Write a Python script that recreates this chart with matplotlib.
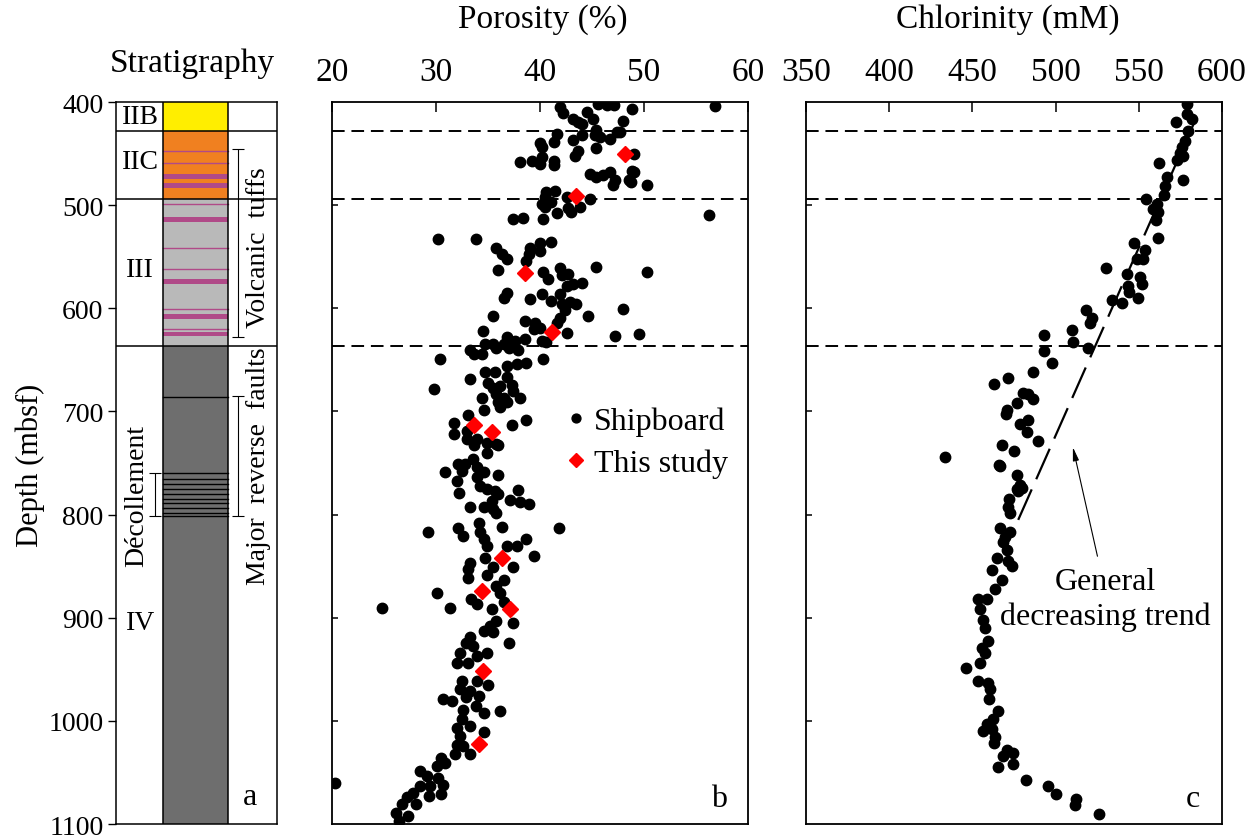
"""
Three-panel depth figure: stratigraphic column, porosity and chlorinity.
"""
import matplotlib
matplotlib.use("Agg")
import matplotlib.pyplot as plt

plt.rcParams["font.family"] = ["Liberation Serif", "DejaVu Serif"]

# ---- stratigraphy (depths in mbsf) ----
unit_names = ["IIB", "IIC", "III", "IV"]
unit_top = [400, 428, 494, 637]
unit_base = [428, 494, 637, 1100]
unit_colors = ["#FFEE00", "#F08020", "#B9B9B9", "#6E6E6E"]
unit_label_depth = [414, 458, 562, 905]

tuff_thin = [447, 459, 499, 542, 562, 601, 620]
tuff_thick = [472, 481, 514, 574, 608, 625]
fault_line = [686]
decollement_lines = [760, 765, 770, 775, 780, 785, 789, 794, 798, 801]

tuff_range = (446, 628)
fault_range = (685, 801)
decol_range = (760, 801)

# horizontal unit boundaries shown on b and c
boundaries = [428, 494, 637]

# ---- porosity, shipboard ----
por_ship = [
    41.9, 42.2, 43.2, 43.7, 44.0, 44.5, 45.1, 45.6, 46.4, 47.1, 48.8, 48.0,
    45.4, 45.3, 45.8, 44.0, 43.2, 46.7, 47.4, 47.7, 41.6, 41.3, 40.0, 40.2,
    43.7, 43.4, 45.4, 49.0, 38.1, 39.2, 40.2, 40.0, 41.3, 41.3, 44.8, 45.4,
    46.1, 46.7, 47.2, 47.0, 49.0, 48.7, 50.3, 56.8, 56.2, 48.8, 48.6,
    40.6, 41.4, 40.5, 40.2, 41.1, 40.5, 41.6, 40.3, 38.4, 37.4, 42.7, 43.0,
    43.8, 44.8, 42.6, 30.2, 33.8, 35.8, 36.3, 36.8, 39.0, 38.9, 40.0, 40.0,
    41.1, 38.7, 36.0, 40.3, 41.9, 42.7, 45.4, 50.3,
    40.8, 42.1, 42.6, 43.2, 44.0, 36.8, 36.5, 39.0, 40.2, 41.1, 41.9, 42.1,
    42.9, 43.5, 42.4, 41.9, 41.6, 44.6, 48.0, 47.2, 49.5, 35.5, 38.6, 39.5,
    39.4, 40.0, 42.6, 40.2, 40.6, 34.5, 36.8, 37.6, 38.6, 34.7, 35.5, 36.5,
    33.3, 33.7, 34.4, 35.8, 37.0, 37.9, 30.4, 40.3, 36.8, 37.8, 38.7, 33.3,
    34.7, 35.7, 36.8, 35.0, 35.5, 36.2, 37.3, 37.4, 29.8, 34.4, 35.8, 36.5,
    38.1, 36.0, 36.2, 36.8, 34.6, 33.1, 31.7, 31.7, 37.3, 38.7, 33.0, 33.0,
    33.9, 35.8, 33.7, 34.9, 36.0,
    34.9, 33.6, 32.8, 32.1, 30.9, 32.5, 33.9, 34.6, 36.0, 32.0, 32.2, 33.9,
    34.2, 34.9, 35.7, 36.0, 35.4, 34.6, 33.3, 35.5, 35.8, 37.9, 37.1, 38.1,
    38.9, 41.8, 29.2, 32.1, 32.6, 34.1, 34.2, 34.6, 34.9, 36.3, 36.8, 37.8,
    38.7, 39.4, 37.4, 34.7, 33.3, 33.1, 33.1, 35.5, 34.9, 36.5, 35.8, 30.1,
    24.8, 31.3, 33.4, 33.9, 35.4, 36.2, 36.5, 37.4, 35.8, 35.2, 34.6, 35.5,
    33.3,
    37.0, 32.9, 33.6, 32.3, 33.9, 34.9, 32.0, 33.1, 32.5, 33.9, 35.0, 32.3,
    33.3, 30.7, 31.5, 32.9, 34.1, 32.6, 33.8, 34.6, 36.2, 32.5, 32.0, 33.3,
    34.6, 32.3, 32.0, 32.6, 31.8, 33.3, 30.5, 30.9, 30.1, 28.5, 29.1, 30.2,
    30.7, 29.4, 30.5, 29.3, 28.5, 27.8, 27.2, 28.1, 26.7, 26.2, 27.3, 26.4,
    20.3,
]
dep_ship = [
    405, 411, 416, 419, 421, 410, 416, 402, 403, 403, 407, 418,
    427, 432, 434, 432, 437, 436, 429, 429, 431, 439, 440, 444,
    447, 452, 445, 450, 458, 457, 453, 460, 457, 461, 470, 473,
    471, 468, 476, 480, 468, 478, 480, 404, 510, 467, 476,
    487, 486, 492, 499, 497, 502, 508, 513, 512, 513, 503, 507,
    502, 494, 492, 533, 533, 542, 547, 552, 542, 547, 537, 544,
    536, 554, 563, 565, 561, 567, 560, 565,
    572, 568, 578, 576, 575, 585, 590, 591, 586, 593, 586, 596,
    594, 596, 602, 609, 614, 607, 601, 627, 625, 607, 612, 614,
    620, 619, 624, 632, 633, 622, 628, 632, 630, 635, 635, 635,
    640, 644, 644, 638, 638, 640, 649, 649, 656, 654, 653, 669,
    662, 662, 667, 672, 677, 675, 674, 680, 678, 687, 683, 687,
    687, 691, 696, 691, 699, 703, 711, 722, 713, 708, 719, 727,
    727, 732, 733, 731, 733,
    740, 746, 751, 751, 759, 758, 754, 759, 762, 767, 779, 764,
    772, 775, 777, 780, 787, 793, 793, 795, 798, 776, 786, 788,
    790, 813, 817, 813, 821, 808, 817, 824, 830, 812, 830, 830,
    824, 840, 851, 842, 847, 853, 861, 851, 859, 863, 869, 876,
    891, 891, 882, 887, 892, 876, 885, 905, 903, 908, 913, 914,
    919,
    924, 924, 927, 934, 937, 934, 944, 944, 961, 961, 965, 969,
    971, 979, 981, 977, 976, 989, 986, 992, 990, 998, 1007, 1005,
    1011, 1015, 1023, 1024, 1032, 1032, 1036, 1041, 1044, 1049, 1053, 1055,
    1062, 1063, 1071, 1073, 1063, 1070, 1074, 1081, 1081, 1089, 1092, 1097,
    1060,
]

# ---- porosity, this study ----
por_this = [48.2, 43.5, 38.6, 41.2, 33.7, 35.4, 36.3, 34.4, 37.1, 34.5, 34.1]
dep_this = [450, 491, 566, 623, 713, 720, 842, 874, 892, 952, 1022]

# ---- chlorinity ----
cl_ship = [
    578.8, 578.8, 581.8, 572.4, 579.4, 577.8, 575.8, 574.8, 576.8, 572.8,
    562.3, 576.8, 567.2, 565.7, 565.3, 554.1, 560.7, 558.7, 561.7, 560.3,
    561.7, 547.3, 553.7, 548.7, 552.7, 542.7, 530.3, 550.7, 551.7, 543.7,
    544.3, 549.7, 534.1, 539.7, 518.3, 521.7, 520.7, 509.7, 510.7, 493.0,
    493.0, 519.3, 498.0, 486.6, 471.6, 463.0,
    480.6, 483.6, 486.6, 476.6, 470.6, 470.2, 483.6, 478.6, 483.0, 489.6,
    433.5, 467.6, 475.0, 466.2, 466.6, 477.0, 478.6, 476.6, 479.6, 472.2,
    477.6, 471.6, 472.6, 466.6, 472.6, 469.6, 468.6, 470.6, 464.6, 471.6,
    473.6, 461.6, 467.6, 463.6, 453.6, 458.6, 454.6, 456.6, 457.6, 459.6,
    455.6, 457.6, 454.6, 446.2, 453.6, 459.6, 460.6, 460.2, 465.6, 462.6,
    458.6, 456.6, 461.6, 463.6, 463.0, 470.6, 474.6, 468.6, 474.6, 465.6,
    482.2, 495.6, 500.0, 512.3, 511.7, 526.1,
]
dep_cl = [
    402, 412, 416, 419, 428, 438, 444, 449, 452, 456,
    459, 476, 473, 481, 490, 494, 499, 504, 507, 514,
    532, 537, 543, 552, 552, 567, 561, 570, 576, 578,
    584, 590, 592, 595, 602, 609, 614, 621, 633, 626,
    641, 638, 653, 662, 668, 673,
    682, 683, 688, 692, 699, 702, 708, 712, 720, 729,
    744, 733, 738, 752, 753, 762, 771, 775, 774, 785,
    777, 793, 798, 813, 817, 822, 827, 834, 842, 845,
    850, 854, 863, 872, 882, 882, 892, 902, 910, 923,
    929, 934, 944, 949, 961, 963, 969, 979, 990, 998,
    1003, 1010, 1008, 1016, 1021, 1028, 1031, 1034, 1042, 1045,
    1057, 1063, 1071, 1076, 1082, 1090,
]

# trend line end points (chlorinity, depth) and arrow
trend_cl = [583, 477]
trend_dep = [421, 807]
arrow_head = (510, 732)
arrow_tail = (525.5, 843)

FS = 20        # left depth ticks, unit labels
FS_TOP = 24    # top tick labels and headers
FS_NOTE = 23   # legend and annotation
TUFF = "#B04A88"

fig = plt.figure(figsize=(12.57, 8.37), dpi=100)
ax_a = fig.add_axes([0.0923, 0.0143, 0.1281, 0.8626])
ax_b = fig.add_axes([0.2641, 0.0143, 0.3310, 0.8626])
ax_c = fig.add_axes([0.6412, 0.0143, 0.3310, 0.8626])

# ---------------- panel a ----------------
col0, col1 = 0.292, 0.696
ax_a.set_xlim(0, 1)
ax_a.set_ylim(1100, 400)
for top, base, c in zip(unit_top, unit_base, unit_colors):
    ax_a.fill_between([col0, col1], top, base, color=c, lw=0)
for d in tuff_thin:
    ax_a.plot([col0, col1], [d, d], color=TUFF, lw=1.0)
for d in tuff_thick:
    ax_a.fill_between([col0, col1], d - 2.3, d + 2.3, color=TUFF, lw=0)
for d in fault_line + decollement_lines:
    ax_a.plot([col0, col1], [d, d], color="black", lw=1.0)
ax_a.axvline(col0, color="black", lw=1.1)
ax_a.axvline(col1, color="black", lw=1.1)
for d in boundaries:
    ax_a.axhline(d, color="black", lw=1.1)
for name, d in zip(unit_names, unit_label_depth):
    ax_a.text(0.15, d, name, ha="center", va="center", fontsize=FS)
ax_a.text(0.83, 1073, "a", ha="center", va="center", fontsize=FS_NOTE)

def bracket(ax, x, rng):
    mid = (rng[0] + rng[1]) / 2
    ax.errorbar(x, mid, yerr=(rng[1] - rng[0]) / 2, color="black",
                lw=0.8, capsize=4, capthick=0.8)

bracket(ax_a, 0.758, tuff_range)
bracket(ax_a, 0.758, fault_range)
bracket(ax_a, 0.242, decol_range)
ax_a.text(0.885, 540, "Volcanic  tuffs", rotation=90, ha="center",
          va="center", fontsize=FS)
ax_a.text(0.885, 752, "Major  reverse  faults", rotation=90, ha="center",
          va="center", fontsize=FS)
ax_a.text(0.13, 781, "Décollement", rotation=90, ha="center",
          va="center", fontsize=FS)

ax_a.set_xticks([])
ax_a.set_yticks(range(400, 1101, 100))
ax_a.tick_params(axis="y", direction="out", length=6, width=1,
                 labelsize=FS, pad=3)
for s in ax_a.spines.values():
    s.set_linewidth(1.1)

# ---------------- panels b, c ----------------
def depth_axes(ax, xlim, xticks):
    ax.set_xlim(*xlim)
    ax.set_ylim(1100, 400)
    ax.xaxis.tick_top()
    ax.set_xticks(xticks)
    ax.tick_params(axis="x", direction="in", length=7, width=1.1,
                   labelsize=FS_TOP, pad=11)
    ax.set_yticks(range(500, 1001, 100))
    ax.tick_params(axis="y", direction="in", length=4, width=1.1,
                   labelleft=False)
    for s in ax.spines.values():
        s.set_linewidth(1.3)
    for d in boundaries:
        ax.axhline(d, color="black", lw=1.4, dashes=(6.5, 3.5))

depth_axes(ax_b, (20, 60), range(20, 61, 10))
ax_b.plot(por_ship, dep_ship, "o", color="black", ms=7.5, ls="none",
          label="Shipboard")
ax_b.plot(por_this, dep_this, "D", color="#FF0000", ms=8, ls="none",
          label="This study")
ax_b.legend(loc="center left", bbox_to_anchor=(0.548, 0.529), frameon=False,
            fontsize=FS_NOTE, handletextpad=0.05, handlelength=1.0,
            labelspacing=0.4, markerscale=0.85, borderpad=0, borderaxespad=0)
ax_b.text(0.93, 0.035, "b", transform=ax_b.transAxes, ha="center",
          va="center", fontsize=FS_NOTE)

depth_axes(ax_c, (350, 600), range(350, 601, 50))
ax_c.plot(cl_ship, dep_cl, "o", color="black", ms=7.5, ls="none")
ax_c.plot(trend_cl, trend_dep, color="black", lw=1.6, dashes=(15, 5))
ax_c.annotate("", xy=arrow_head, xytext=arrow_tail,
              arrowprops=dict(arrowstyle="-|>,head_length=0.8,head_width=0.18",
                              color="black", lw=0.8))
ax_c.text(529.7, 882, "General\ndecreasing trend", ha="center", va="center",
          fontsize=FS_NOTE, linespacing=1.25)
ax_c.text(0.93, 0.035, "c", transform=ax_c.transAxes, ha="center",
          va="center", fontsize=FS_NOTE)

# headers
fig.text(0.153, 0.924, "Stratigraphy", ha="center", va="center",
         fontsize=FS_TOP)
fig.text(0.432, 0.976, "Porosity (%)", ha="center", va="center",
         fontsize=FS_TOP)
fig.text(0.802, 0.976, "Chlorinity (mM)", ha="center", va="center",
         fontsize=FS_TOP)
fig.text(0.024, 0.444, "Depth (mbsf)", rotation=90, ha="center", va="center",
         fontsize=22)

fig.savefig("out.png", dpi=100)
